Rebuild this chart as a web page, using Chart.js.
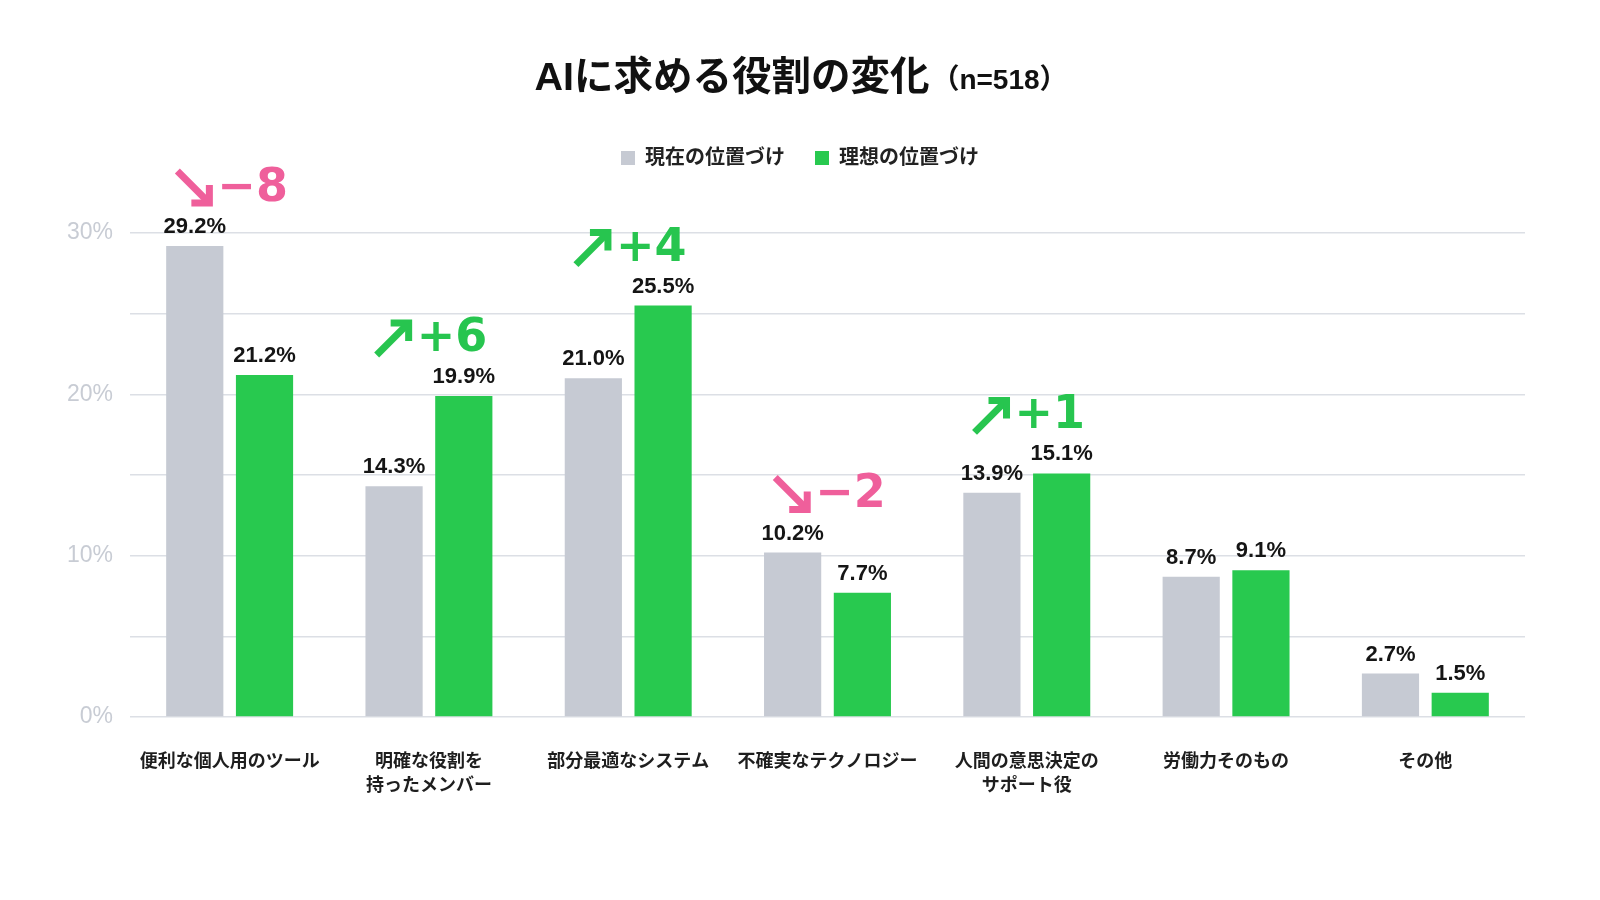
<!DOCTYPE html>
<html>
<head>
<meta charset="utf-8">
<script src="https://cdn.jsdelivr.net/npm/chart.js@4"></script>
<style>
  html, body { margin: 0; padding: 0; background: #ffffff; }
  #wrap { width: 1600px; height: 900px; position: relative; }
</style>
</head>
<body>
<div id="wrap"><canvas id="c" width="1600" height="900"></canvas></div>
<script>
const categories = [
  "便利な個人用のツール",
  ["明確な役割を", "持ったメンバー"],
  "部分最適なシステム",
  "不確実なテクノロジー",
  ["人間の意思決定の", "サポート役"],
  "労働力そのもの",
  "その他"
];
const seriesNames = ["現在の位置づけ", "理想の位置づけ"];
const currentValues = [29.2, 14.3, 21.0, 10.2, 13.9, 8.7, 2.7];
const idealValues = [21.2, 19.9, 25.5, 7.7, 15.1, 9.1, 1.5];
const changeLabels = ["−8", "+6", "+4", "−2", "+1", "", ""];
const yTickLabels = { 0: "0%", 10: "10%", 20: "20%", 30: "30%" };
const titleMain = "AIに求める役割の変化";
const titleSub = "（n=518）";

const FONT = '"Liberation Sans", "Noto Sans CJK JP", sans-serif';
const ANNO_FONT = '"DejaVu Sans", "Liberation Sans", sans-serif';
const GRAY = '#c6cad3';
const GREEN = '#28c94f';
const PINK = '#ef5f9b';
const GREEN_TXT = '#27c54f';

const overlayPlugin = {
  id: 'overlay',
  afterDraw(chart) {
    const ctx = chart.ctx;
    const xs = chart.scales.x, ys = chart.scales.y;
    ctx.save();
    // title
    ctx.textBaseline = 'alphabetic';
    ctx.textAlign = 'left';
    ctx.fillStyle = '#111111';
    const f1 = 'bold 39.5px ' + FONT, f2 = 'bold 28px ' + FONT;
    ctx.font = f1; const w1 = ctx.measureText(titleMain).width;
    ctx.font = f2; const w2 = ctx.measureText(titleSub).width;
    const tx = 800 - (w1 + w2) / 2;
    ctx.font = f1; ctx.fillText(titleMain, tx, 90);
    ctx.font = f2; ctx.fillText(titleSub, tx + w1 + 2, 89);

    // value labels
    ctx.font = 'bold 22px ' + FONT;
    ctx.fillStyle = '#151515';
    ctx.textAlign = 'center';
    ctx.textBaseline = 'middle';
    chart.data.datasets.forEach((ds, di) => {
      const meta = chart.getDatasetMeta(di);
      meta.data.forEach((bar, i) => {
        ctx.fillText(ds.data[i].toFixed(1) + '%', bar.x, bar.y - 19);
      });
    });

    // change annotations
    changeLabels.forEach((lab, i) => {
      if (!lab) return;
      const up = lab.charAt(0) === '+';
      const color = up ? GREEN_TXT : PINK;
      const top = Math.max(currentValues[i], idealValues[i]);
      const cx = xs.getPixelForValue(i) + 3;
      const cy = ys.getPixelForValue(top) - 58;
      ctx.font = 'bold 46px ' + ANNO_FONT;
      const tw = ctx.measureText(lab).width;
      const aw = 32, gap = 8;
      const x0 = cx - (aw + gap + tw) / 2;
      ctx.strokeStyle = color;
      ctx.lineWidth = 7;
      ctx.lineCap = 'butt';
      ctx.lineJoin = 'miter';
      ctx.beginPath();
      if (up) {
        const tipx = x0 + aw, tipy = cy - 15;
        ctx.moveTo(x0, cy + 17);
        ctx.lineTo(tipx - 2, tipy + 2);
        ctx.stroke();
        ctx.beginPath();
        ctx.moveTo(tipx - 18, tipy);
        ctx.lineTo(tipx, tipy);
        ctx.lineTo(tipx, tipy + 18);
        ctx.stroke();
      } else {
        const tipx = x0 + aw, tipy = cy + 15;
        ctx.moveTo(x0, cy - 17);
        ctx.lineTo(tipx - 2, tipy - 2);
        ctx.stroke();
        ctx.beginPath();
        ctx.moveTo(tipx - 18, tipy);
        ctx.lineTo(tipx, tipy);
        ctx.lineTo(tipx, tipy - 18);
        ctx.stroke();
      }
      ctx.fillStyle = color;
      ctx.textAlign = 'left';
      ctx.textBaseline = 'middle';
      ctx.fillText(lab, x0 + aw + gap, cy + 1);
    });
    ctx.restore();
  }
};

new Chart(document.getElementById('c'), {
  type: 'bar',
  data: {
    labels: categories,
    datasets: [
      { label: seriesNames[0], data: currentValues, backgroundColor: GRAY, borderWidth: 0 },
      { label: seriesNames[1], data: idealValues, backgroundColor: GREEN, borderWidth: 0 }
    ]
  },
  options: {
    responsive: false,
    animation: false,
    devicePixelRatio: 1,
    layout: { padding: { top: 118, left: 55, right: 55, bottom: 0 } },
    datasets: { bar: { categoryPercentage: 0.7, barPercentage: 0.82 } },
    plugins: {
      title: { display: false },
      subtitle: {
        display: true, text: ' ', weight: 500,
        font: { size: 20, family: FONT, lineHeight: 1.2 }, padding: { top: 0, bottom: 31 }
      },
      legend: {
        position: 'top',
        labels: {
          boxWidth: 14, boxHeight: 14, padding: 30,
          color: '#222222',
          font: { size: 20, weight: 'bold', family: FONT }
        }
      },
      tooltip: { enabled: false }
    },
    scales: {
      x: {
        grid: { display: false, drawTicks: false },
        border: { display: false },
        ticks: {
          color: '#1e1e1e',
          padding: 33,
          font: { size: 18, weight: 'bold', family: FONT, lineHeight: 1.333 },
          maxRotation: 0, autoSkip: false
        },
        afterFit(scale) { scale.height = 183; }
      },
      y: {
        min: 0, max: 30,
        grid: { color: '#dcdfe5', lineWidth: 1.5, drawTicks: false },
        border: { display: false },
        ticks: {
          stepSize: 5,
          padding: 17,
          color: '#c8ccd4',
          font: { size: 23, weight: '500', family: FONT },
          callback: (v) => (yTickLabels[v] !== undefined ? yTickLabels[v] : '')
        },
        afterFit(scale) { scale.width = 75; }
      },
      yRight: {
        position: 'right',
        min: 0, max: 30,
        grid: { display: false, drawTicks: false },
        border: { display: false },
        ticks: { display: false },
        afterFit(scale) { scale.width = 20; }
      }
    }
  },
  plugins: [overlayPlugin]
});
</script>
</body>
</html>
